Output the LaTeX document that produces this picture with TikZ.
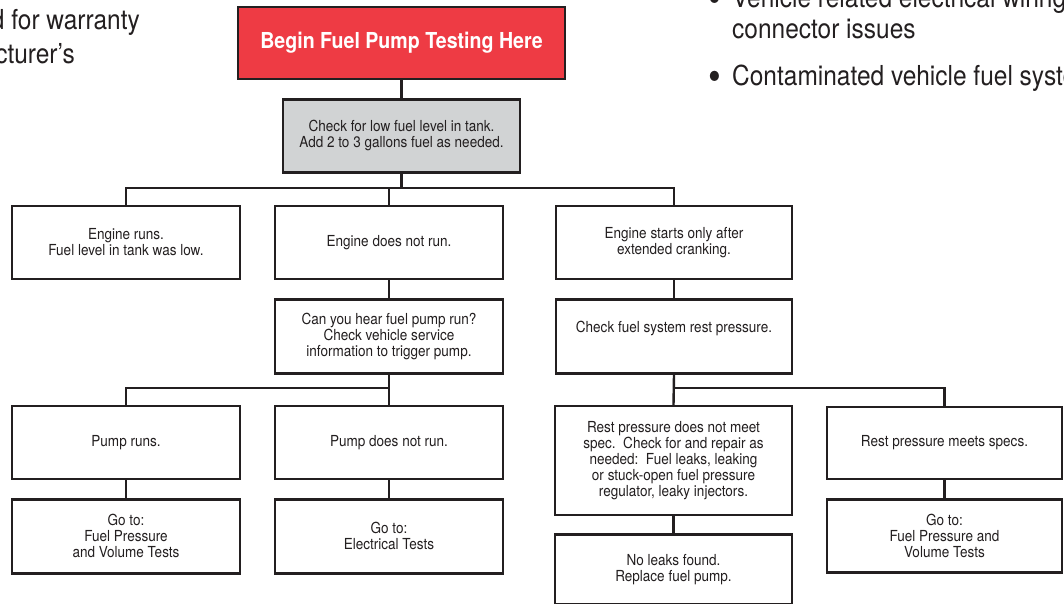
\documentclass[tikz,border=0pt]{standalone}
\usepackage{fontspec}
\setmainfont{TeX Gyre Heros}[FakeStretch=0.89]
\usetikzlibrary{positioning}
\definecolor{fpRed}{HTML}{EE3B44}
\definecolor{fpGray}{HTML}{D1D3D4}
\definecolor{fpInk}{HTML}{231F20}

\begin{document}
\begin{tikzpicture}[x=1pt,y=-1pt,
  box/.style={draw=fpInk,line width=2.4pt,fill=white,align=center,
              inner sep=2pt,text=fpInk,font=\fontsize{15.2}{16}\selectfont},
  startbox/.style={box,fill=fpRed,text=white,
                   font=\fontsize{22}{24}\selectfont\bfseries},
  conn/.style={draw=fpInk,line width=2.4pt},
  sidetext/.style={inner sep=0pt,text=fpInk,font=\fontsize{27.5}{31}\selectfont},
  bigdot/.style={sidetext,anchor=base,font=\fontsize{41}{41}\selectfont}]
  \useasboundingbox (0,0) rectangle (1064,603);
  \clip (0,0) rectangle (1064,603);

  % page text cut by the frame
  \node[sidetext,anchor=base east] (warranty) at (140,29) {d for warranty};
  \node[sidetext,anchor=base east] (maker) at (75,63) {cturer’s};
  \node[bigdot] (dotA) at (715,12) {•};
  \node[sidetext,anchor=base west] (wiring) at (732,7) {Vehicle related electrical wiring};
  \node[sidetext,anchor=base west] (issues) at (732,38) {connector issues};
  \node[bigdot] (dotB) at (715,90) {•};
  \node[sidetext,anchor=base west] (dirt) at (732,85) {Contaminated vehicle fuel system};

  % start and first check
  \node[startbox,minimum width=327pt,minimum height=72pt] (start) at (401.5,43)
    {Begin Fuel Pump Testing Here};
  \node[box,fill=fpGray,minimum width=237pt,minimum height=73pt,below=18pt of start] (level)
    {Check for low fuel level in tank.\\Add 2 to 3 gallons fuel as needed.};

  % engine outcome
  \node[box,minimum width=228pt,minimum height=73pt] (runs) at (126,242.5)
    {Engine runs.\\Fuel level in tank was low.};
  \node[box,minimum width=228pt,minimum height=73pt] (norun) at (389,242.5)
    {Engine does not run.};
  \node[box,minimum width=236pt,minimum height=73pt] (crank) at (674,242.5)
    {Engine starts only after\\extended cranking.};
  \node[box,minimum width=228pt,minimum height=74pt,below=18pt of norun] (hear)
    {Can you hear fuel pump run?\\Check vehicle service\\information to trigger pump.};
  \node[box,minimum width=236pt,minimum height=74pt,below=18pt of crank] (rest)
    {Check fuel system rest pressure.\\[4pt]};

  % pump and pressure outcome
  \node[box,minimum width=228pt,minimum height=73pt] (pumpok) at (126,442.5)
    {Pump runs.};
  \node[box,minimum width=228pt,minimum height=73pt] (pumpno) at (389,442.5)
    {Pump does not run.};
  \node[box,minimum width=237pt,minimum height=109pt] (leak) at (673.5,460.5)
    {Rest pressure does not meet\\spec.\ \ Check for and repair as\\needed:\ \ Fuel leaks, leaking\\or stuck-open fuel pressure\\regulator, leaky injectors.};
  \node[box,minimum width=235pt,minimum height=72pt] (restok) at (944.5,443)
    {Rest pressure meets specs.};
  \node[box,minimum width=228pt,minimum height=74pt,below=18pt of pumpok] (gofuelA)
    {Go to:\\Fuel Pressure\\and Volume Tests};
  \node[box,minimum width=228pt,minimum height=74pt,below=18pt of pumpno] (goelec)
    {Go to:\\Electrical Tests};
  \node[box,minimum width=237pt,minimum height=70pt,below=17pt of leak] (replace)
    {No leaks found.\\Replace fuel pump.};
  \node[box,minimum width=235pt,minimum height=73pt,below=18pt of restok] (gofuelB)
    {Go to:\\Fuel Pressure and\\Volume Tests};

  % connectors
  \coordinate (busA) at (0,188);
  \coordinate (busB) at (0,388);
  \draw[conn] (start) -- (level);
  \draw[conn] (level.south) -- (level.south |- busA);
  \draw[conn] (runs.north) |- (crank.north |- busA) -- (crank.north);
  \draw[conn] (norun.north) -- (norun.north |- busA);
  \draw[conn] (norun) -- (hear);
  \draw[conn] (crank) -- (rest);
  \draw[conn] (hear.south) -- (pumpno.north);
  \draw[conn] (pumpok.north) |- (hear.south |- busB);
  \draw[conn] (rest.south) -- (leak.north);
  \draw[conn] (restok.north) |- (rest.south |- busB);
  \draw[conn] (pumpok) -- (gofuelA);
  \draw[conn] (pumpno) -- (goelec);
  \draw[conn] (leak) -- (replace);
  \draw[conn] (restok) -- (gofuelB);
\end{tikzpicture}
\end{document}
